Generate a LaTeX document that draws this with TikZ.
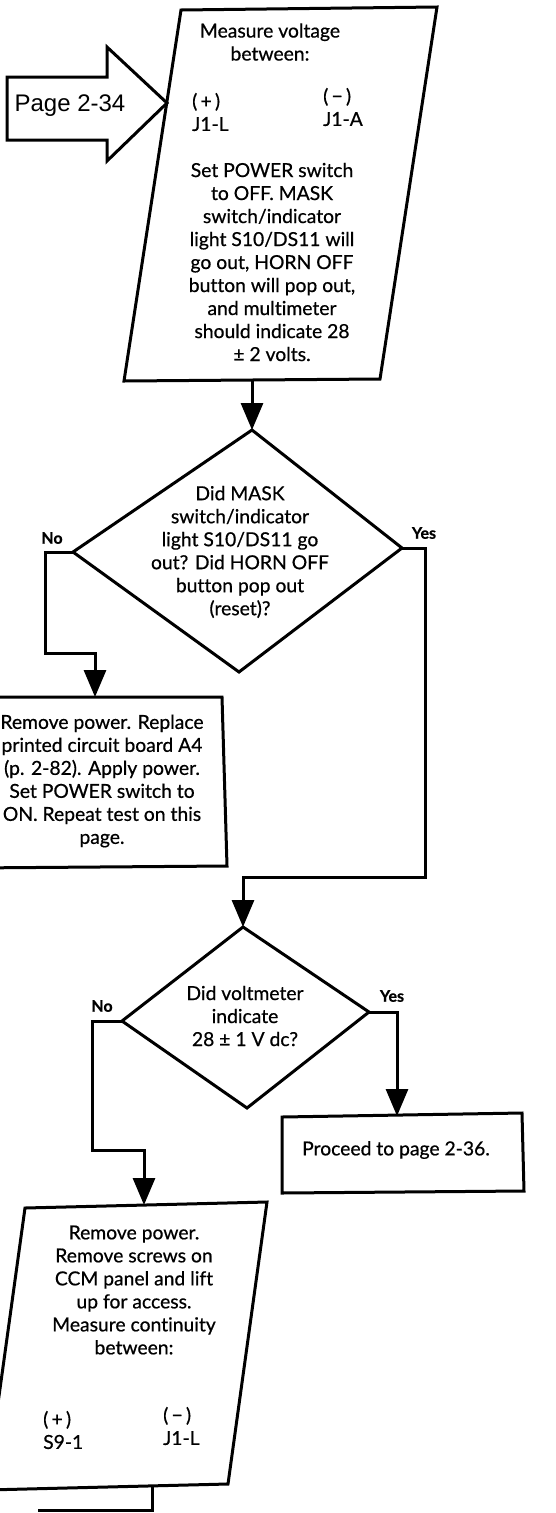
\documentclass[tikz,border=0pt]{standalone}
\usepackage{fontspec}
\setmainfont{Lato}[Ligatures={NoCommon},FakeBold=0.6]
\newfontfamily\arialf{Liberation Sans}
\usetikzlibrary{arrows.meta}
\begin{document}
\begin{tikzpicture}[x=1pt,y=-1pt,
  outline/.style={line width=3pt, line join=miter},
  conn/.style={line width=3pt},
  arr/.style={line width=3pt,-{Triangle[length=27pt,width=22pt]}},
  txt/.style={font=\fontsize{19.3}{23}\selectfont, align=center, inner sep=0pt},
  ltxt/.style={font=\fontsize{19.3}{23}\selectfont, align=left, inner sep=0pt},
  lbl/.style={font=\fontsize{16}{18}\selectfont\bfseries, inner sep=0pt}]
\useasboundingbox (0,0) rectangle (555,1513);
\clip (0,0) rectangle (555,1513);
\fill[white] (0,0) rectangle (555,1513);

% entry arrow
\coordinate (pa1) at (7,77);
\coordinate (pa2) at (107,77);
\coordinate (pa3) at (107,47);
\coordinate (patip) at (167,103);
\coordinate (pa5) at (107,161);
\coordinate (pa6) at (107,140);
\coordinate (pa7) at (7,140);
\draw[outline] (pa1)--(pa2)--(pa3)--(patip)--(pa5)--(pa6)--(pa7)--cycle;
\node[inner sep=0pt, font=\arialf\fontsize{24}{28}\selectfont] (pagein) at (70,106) {Page 2-34};

% parallelogram 1
\coordinate (p1tl) at (181,10);
\coordinate (p1tr) at (437,7);
\coordinate (p1br) at (380,379);
\coordinate (p1bl) at (124,381);
\draw[outline] (p1tl)--(p1tr)--(p1br)--(p1bl)--cycle;
\node[txt] (p1a) at (270,42) {Measure voltage\\between:};
\node[ltxt, anchor=west] (p1plus) at (192,112) {(\,+\,)\\J1-L};
\node[ltxt, anchor=west] (p1minus) at (323,107) {(\,−\,)\\J1-A};
\node[txt] (p1b) at (272,262) {Set POWER switch\\to OFF. MASK\\switch/indicator\\light S10/DS11 will\\go out, HORN OFF\\button will pop out,\\and multimeter\\should indicate 28\\± 2 volts.};
\coordinate (p1out) at (252,380);

% diamond 1
\coordinate (d1t) at (252,430);
\coordinate (d1r) at (402,548);
\coordinate (d1b) at (239,672);
\coordinate (d1l) at (73,552);
\draw[outline] (d1t)--(d1r)--(d1b)--(d1l)--cycle;
\node[txt] (d1txt) at (240,552) {Did MASK\\switch/indicator\\light S10/DS11 go\\out? Did HORN OFF\\button pop out\\(reset)?};
\node[lbl] (d1no) at (52,538) {No};
\node[lbl] (d1yes) at (424,533) {Yes};

\draw[arr] (p1out) -- (d1t);

% box 1
\coordinate (b1tl) at (-30,697);
\coordinate (b1tr) at (222,697);
\coordinate (b1br) at (227,866);
\coordinate (b1bl) at (-30,868);
\draw[outline] (b1tl)--(b1tr)--(b1br)--(b1bl)--cycle;
\coordinate (b1t) at (95,697);
\node[txt] (b1txt) at (102,781) {Remove power. Replace\\printed circuit board A4\\(p. 2-82). Apply power.\\Set POWER switch to\\ON. Repeat test on this\\page.};

\draw[arr] (d1l) -| (45,653) -| (b1t);

% diamond 2
\coordinate (d2t) at (243,927);
\coordinate (d2r) at (369,1012);
\coordinate (d2b) at (247,1108);
\coordinate (d2l) at (122,1021);
\draw[outline] (d2t)--(d2r)--(d2b)--(d2l)--cycle;
\node[txt] (d2txt) at (245,1016) {Did voltmeter\\indicate\\28 ± 1 V dc?};
\node[lbl] (d2no) at (102,1006) {No};
\node[lbl] (d2yes) at (392,996) {Yes};

\draw[arr] (d1r) -| (425,877) -| (d2t);

% box 2
\coordinate (b2tl) at (282,1117);
\coordinate (b2tr) at (522,1113);
\coordinate (b2br) at (524,1191);
\coordinate (b2bl) at (282,1193);
\draw[outline] (b2tl)--(b2tr)--(b2br)--(b2bl)--cycle;
\coordinate (b2t) at (397,1116);
\node[txt] (b2txt) at (396,1150) {Proceed to page 2-36.};

\draw[arr] (d2r) -| (b2t);

% parallelogram 2
\coordinate (p2tl) at (25,1208);
\coordinate (p2tr) at (267,1202);
\coordinate (p2br) at (228,1484);
\coordinate (p2bl) at (-14,1490);
\draw[outline] (p2tl)--(p2tr)--(p2br)--(p2bl)--cycle;
\coordinate (p2t) at (144,1205);
\node[txt] (p2txt) at (134,1290) {Remove power.\\Remove screws on\\CCM panel and lift\\up for access.\\Measure continuity\\between:};
\node[ltxt, anchor=west] (p2plus) at (43,1430) {(\,+\,)\\S9-1};
\node[ltxt, anchor=west] (p2minus) at (163,1426) {(\,−\,)\\J1-L};

\draw[arr] (d2l) -| (92,1150) -| (p2t);

\coordinate (p2out) at (152,1486);
\coordinate (offpage) at (38,1510);
\draw[conn] (p2out) |- (offpage);
\end{tikzpicture}
\end{document}
